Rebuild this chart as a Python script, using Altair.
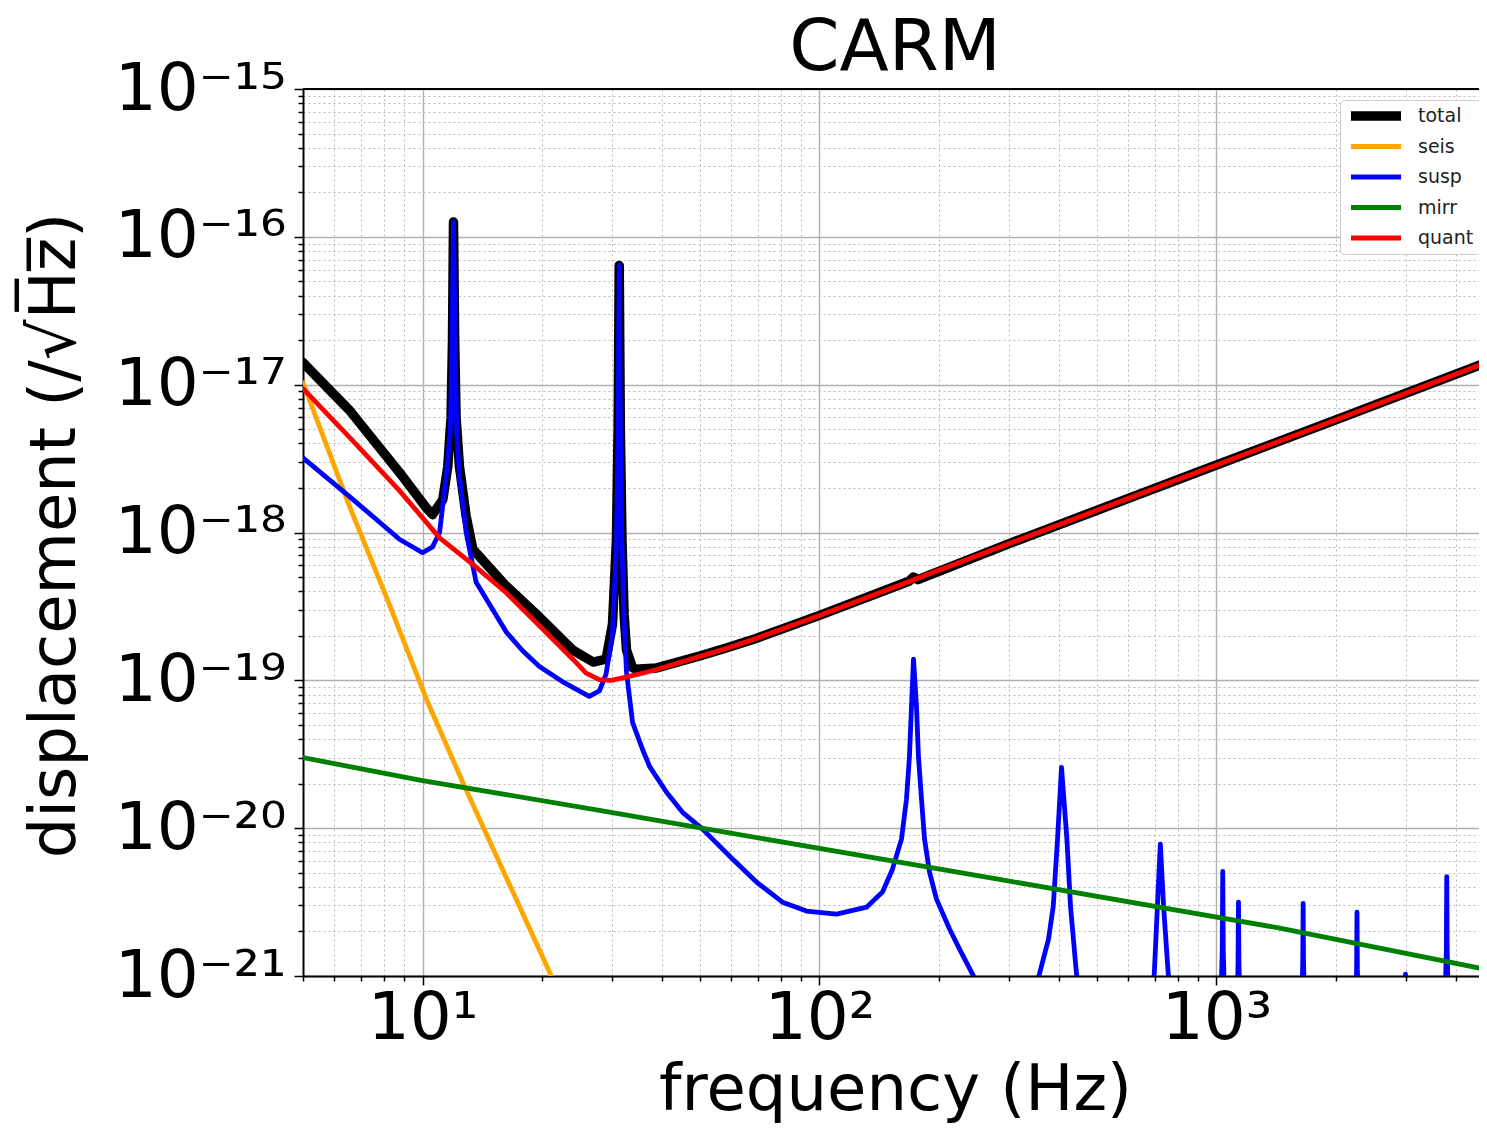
import altair as alt
import pandas as pd

# ---------------- data ----------------
total_f = [5, 6.55, 8.75, 10.2, 10.6, 11.25, 11.58, 11.8, 11.9, 11.97, 12.05, 12.15, 12.39,
           12.88, 13.39, 16.25, 19.73, 23.92, 26.9, 29.0, 30.1, 30.8, 31.1, 31.3, 31.5, 31.8,
           32.2, 32.65, 33.8, 34.5, 38.7, 49.9, 58.5, 69.2, 100, 168, 172.5, 177, 315, 1000,
           2005, 4786, 5000]
total_v = [1.41e-17, 6.7e-18, 2.55e-18, 1.48e-18, 1.32e-18, 1.67e-18, 2.8e-18, 6e-18, 2e-17,
           1.26e-16, 2e-17, 6e-18, 2.8e-18,
           1.29e-18, 7.7e-19, 4.34e-19, 2.67e-19, 1.6e-19, 1.33e-19, 1.39e-19, 2.4e-19, 9e-19,
           5e-18, 6.4e-17, 5e-18, 9e-19,
           2.8e-19, 1.6e-19, 1.22e-19, 1.19e-19, 1.21e-19, 1.46e-19, 1.66e-19, 1.92e-19,
           2.75e-19, 4.68e-19, 5.0e-19, 4.8e-19, 8.83e-19, 2.86e-18,
           5.8e-18, 1.41e-17, 1.47e-17]

seis_f = [5, 6.55, 8.16, 10.23, 12.76, 20.9, 22.5]
seis_v = [1.03e-17, 1.5e-18, 3.52e-19, 7.45e-20, 1.92e-20, 1.06e-21, 6.5e-22]

susp_f = [5, 6.55, 8.75, 10.0, 10.6, 11.04, 11.47, 11.74, 11.85, 11.97, 12.11, 12.2, 12.39,
          12.88, 13.65, 16.3, 17.9, 19.7, 22.8, 26.3, 27.9, 29.0, 30.1, 30.8, 31.1, 31.3,
          31.5, 31.8, 32.2, 32.65, 33.81, 35.82, 37.31, 41.18, 45.18, 50.45, 60.37, 69.39,
          80.67, 92.75, 110.4, 131.4, 144.1, 152.7, 160.9, 165.6, 168.5, 170.5, 172.5,
          175.5, 177.5, 180.7, 183.9, 189.3, 197.1, 212.6, 225.3, 242.9, 270, 330,
          358, 377.5, 388, 397.7, 407, 420, 428.8, 444, 480,
          650, 697, 710, 722, 735.5, 756, 820,
          1015, 1034, 1037, 1040, 1060, 1115, 1133, 1136, 1139, 1160,
          1620, 1649, 1653, 1657, 1690, 2210, 2254, 2259, 2264, 2310,
          2950, 2993, 3030, 3720, 3793, 3802, 3811, 3880, 5000]
susp_v = [3.2e-18, 1.75e-18, 9.0e-19, 7.3e-19, 8.0e-19, 1.0e-18, 2.4e-18, 4.7e-18, 1.33e-17,
          1.26e-16, 1.33e-17, 4.7e-18, 2.4e-18,
          1.0e-18, 4.6e-19, 2.1e-19, 1.58e-19, 1.24e-19, 9.6e-20, 7.8e-20, 8.5e-20, 1.1e-19,
          2.1e-19, 8e-19, 5e-18, 6.4e-17,
          5e-18, 8e-19, 2.5e-19, 1.13e-19, 5.2e-20, 3.42e-20, 2.62e-20, 1.75e-20, 1.28e-20,
          1.0e-20, 6.18e-21, 4.32e-21,
          3.16e-21, 2.75e-21, 2.62e-21, 2.92e-21, 3.7e-21, 5.28e-21, 8.43e-21, 1.57e-20,
          3.06e-20, 6.67e-20, 1.39e-19,
          6.67e-20, 3.06e-20, 1.57e-20, 8.43e-21, 5.04e-21, 3.31e-21, 2.08e-21, 1.52e-21,
          1.03e-21, 6e-22, 5e-22,
          1.03e-21, 1.78e-21, 2.97e-21, 8.4e-21, 2.58e-20, 8.4e-21, 2.97e-21, 1.03e-21, 4e-22,
          3e-22, 1.03e-21, 3e-21, 7.8e-21, 3e-21, 1.03e-21, 2e-22,
          2e-22, 1.5e-21, 5.1e-21, 1.5e-21, 2e-22, 2e-22, 1.2e-21, 3.16e-21, 1.2e-21, 2e-22,
          2e-22, 1.2e-21, 3.1e-21, 1.2e-21, 2e-22, 2e-22, 1.1e-21, 2.7e-21, 1.1e-21, 2e-22,
          2e-22, 1.03e-21, 2e-22, 2e-22, 1.5e-21, 4.7e-21, 1.5e-21, 2e-22, 2e-22]

mirr_f = [5, 10, 27.9, 50.5, 284, 1443, 5000]
mirr_v = [3.0e-20, 2.1e-20, 1.32e-20, 1.0e-20, 4.5e-21, 2.11e-21, 1.08e-21]

quant_f = [5, 6.55, 8.75, 11.04, 13.39, 16.25, 19.73, 23.92, 25.83, 27.88, 29.9, 31.95, 35,
           38.7, 49.9, 58.5, 69.2, 100, 173, 315, 1000, 2005, 4786, 5000]
quant_v = [9.4e-18, 4.4e-18, 1.92e-18, 9.2e-19, 6.08e-19, 3.91e-19, 2.33e-19, 1.39e-19,
           1.12e-19, 1.01e-19, 1.0e-19, 1.04e-19, 1.1e-19,
           1.18e-19, 1.45e-19, 1.65e-19, 1.92e-19, 2.75e-19, 4.79e-19, 8.83e-19, 2.86e-18,
           5.8e-18, 1.41e-17, 1.47e-17]

series_names = ["total", "seis", "susp", "mirr", "quant"]
series_colors = ["#000000", "#ffa500", "#0000ff", "#008000", "#ff0000"]
series_widths = [9.5, 4.8, 4.8, 4.8, 4.8]

chart_title = ["CARM"]
x_major_labels = {1: "10¹", 2: "10²", 3: "10³"}
y_major_labels = {-15: "10⁻¹⁵", -16: "10⁻¹⁶", -17: "10⁻¹⁷", -18: "10⁻¹⁸",
                  -19: "10⁻¹⁹", -20: "10⁻²⁰", -21: "10⁻²¹"}

# ---------------- build table ----------------
rows = []
for name, fs, vs in [("total", total_f, total_v), ("seis", seis_f, seis_v),
                     ("susp", susp_f, susp_v), ("mirr", mirr_f, mirr_v),
                     ("quant", quant_f, quant_v)]:
    for f, v in zip(fs, vs):
        rows.append({"series": name, "f": f, "v": v})
df = pd.DataFrame(rows)

X_MIN, X_MAX = 5, 4584
W, H = 1176, 887
FONT = "DejaVu Sans"

x_vals = [m * 10 ** e for e in range(0, 4) for m in range(1, 10) if X_MIN <= m * 10 ** e <= X_MAX]
y_vals = [float(f"{m}e{e}") for e in range(-21, -15) for m in range(1, 10)] + [1e-15]

LOG = "(log(datum.value)/LN10)"
MAJOR = f"abs({LOG} - round({LOG})) < 0.001"


def label_expr(mapping):
    expr = "''"
    for k, txt in mapping.items():
        expr = f"round({LOG}) == {k} ? '{txt}' : ({expr})"
    return f"{MAJOR} ? ({expr}) : ''"


def make_axis(values, labels, title, **kw):
    return alt.Axis(
        values=values,
        labelExpr=label_expr(labels),
        labelFont=FONT, labelFontSize=66, labelColor="black",
        labelOverlap=False, labelBound=False, labelFlush=False,
        tickColor="black", tickWidth=1.5,
        tickSize={"condition": {"test": MAJOR, "value": 9}, "value": 5},
        domainColor="black", domainWidth=2,
        grid=True,
        gridColor={"condition": {"test": MAJOR, "value": "#b0b0b0"}, "value": "#b8b8b8"},
        gridDash={"condition": {"test": MAJOR, "value": [1, 0]}, "value": [2, 3]},
        gridWidth={"condition": {"test": MAJOR, "value": 1.4}, "value": 1},
        title=title, titleFont=FONT, titleFontSize=64, titleFontWeight="normal",
        titleColor="black",
        **kw,
    )


x_axis = make_axis(x_vals, x_major_labels, "frequency (Hz)", labelPadding=1,
                   titleX=592, titleY=133, titleAlign="center", titleBaseline="alphabetic")
y_axis = make_axis(y_vals, y_major_labels, "displacement (/√H̅z̅)", labelPadding=8,
                   titleX=-248, titleY=446, titleAlign="center", titleBaseline="middle",
                   titleAngle=270)

legend = alt.Legend(
    title=None, orient="none", legendX=1037, legendY=11,
    symbolType="M-1,0H9", symbolSize=100, symbolFillColor="transparent",
    labelFont=FONT, labelFontSize=19, labelColor="#222222", labelOffset=52,
    rowPadding=10.5, clipHeight=20, padding=6, fillColor="white", strokeColor="#cccccc",
    cornerRadius=4,
)

color = alt.Color("series:N", scale=alt.Scale(domain=series_names, range=series_colors),
                  legend=legend)
width_enc = alt.StrokeWidth("series:N",
                            scale=alt.Scale(type="ordinal", domain=series_names,
                                            range=series_widths),
                            legend=legend)

layers = []
for name in series_names:
    layers.append(
        alt.Chart(df).transform_filter(alt.datum.series == name)
        .mark_line(clip=True, strokeCap="round", strokeJoin="round")
        .encode(
            x=alt.X("f:Q", scale=alt.Scale(type="log", domain=[X_MIN, X_MAX]), axis=x_axis),
            y=alt.Y("v:Q", scale=alt.Scale(type="log", domain=[1e-21, 1e-15]), axis=y_axis),
            color=color,
            strokeWidth=width_enc,
        )
    )

top_spine = alt.Chart(pd.DataFrame({"a": [0]})).mark_rule(color="black", strokeWidth=2).encode(
    x=alt.value(0), x2=alt.value(W), y=alt.value(0)
)

title_text = alt.Chart(pd.DataFrame({"t": chart_title})).mark_text(
    font=FONT, fontSize=72, color="black", align="center", baseline="alphabetic"
).encode(text="t:N", x=alt.value(592), y=alt.value(-19))

chart = alt.layer(*layers, top_spine, title_text).properties(
    width=W, height=H,
    autosize=alt.AutoSizeParams(type="none"),
    padding={"left": 295, "top": 81, "right": 0, "bottom": 150},
).configure_view(stroke=None).configure(background="white")

chart.save("out.html", embed_options={"renderer": "svg", "actions": False})
